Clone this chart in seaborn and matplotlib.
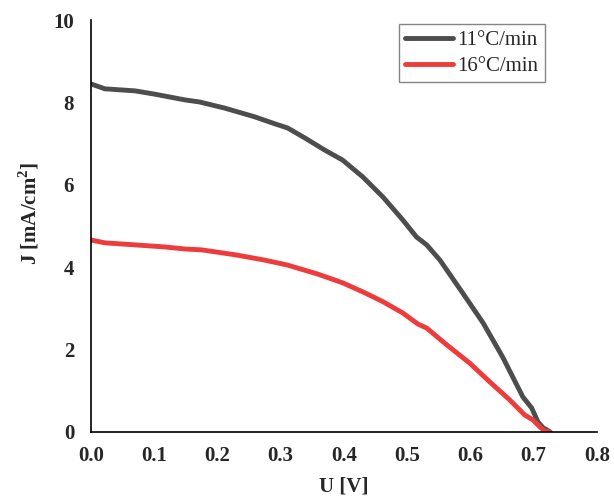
import numpy as np
import pandas as pd
import matplotlib.pyplot as plt
import seaborn as sns

u_11 = [0.0, 0.022, 0.07, 0.101, 0.149, 0.172, 0.212, 0.259, 0.291, 0.311, 0.338,
        0.37, 0.398, 0.43, 0.462, 0.493, 0.515, 0.531, 0.552, 0.588, 0.62, 0.651,
        0.683, 0.697, 0.707, 0.715, 0.726]
j_11 = [8.45, 8.33, 8.28, 8.2, 8.06, 8.01, 7.86, 7.65, 7.48, 7.38, 7.14,
        6.84, 6.6, 6.19, 5.7, 5.15, 4.73, 4.54, 4.17, 3.37, 2.65, 1.82,
        0.85, 0.58, 0.24, 0.1, 0.0]

u_16 = [0.0, 0.022, 0.07, 0.117, 0.149, 0.175, 0.228, 0.275, 0.311, 0.359, 0.398,
        0.43, 0.462, 0.493, 0.517, 0.531, 0.563, 0.599, 0.631, 0.662, 0.686, 0.699,
        0.71, 0.718, 0.726]
j_16 = [4.66, 4.59, 4.54, 4.49, 4.44, 4.42, 4.3, 4.17, 4.05, 3.83, 3.62,
        3.4, 3.16, 2.89, 2.62, 2.52, 2.11, 1.67, 1.21, 0.78, 0.41, 0.29,
        0.12, 0.02, 0.0]

labels = ["11\u00b0C/min", "16\u00b0C/min"]
colors = ["#4d4d4d", "#ee3b3b"]

df = pd.concat([
    pd.DataFrame({"U": u_11, "J": j_11, "rate": labels[0]}),
    pd.DataFrame({"U": u_16, "J": j_16, "rate": labels[1]}),
], ignore_index=True)

sns.set_style("white")
plt.rcParams["font.family"] = ["Liberation Serif", "DejaVu Serif"]
plt.rcParams["mathtext.fontset"] = "custom"
plt.rcParams["mathtext.rm"] = "Liberation Serif"
plt.rcParams["mathtext.bf"] = "Liberation Serif:bold"

fig = plt.figure(figsize=(6.14, 5.01), dpi=100)
ax = fig.add_axes([0.148, 0.138, 0.824, 0.822])
sns.lineplot(data=df, x="U", y="J", hue="rate", palette=colors, sort=False,
             linewidth=3.5, ax=ax, estimator=None)

ax.set_xlim(0, 0.8)
ax.set_ylim(0, 10)
ax.set_xticks(np.arange(0, 0.81, 0.1))
ax.set_xticklabels([f"{v:.1f}" for v in np.arange(0, 0.81, 0.1)])
ax.set_yticks([0, 2, 4, 6, 8, 10])
for t in ax.get_xticklabels() + ax.get_yticklabels():
    t.set_fontweight("bold")
    t.set_fontsize(15)
ax.tick_params(axis="x", length=0, pad=10)
ax.tick_params(axis="y", length=0, pad=12)
sns.despine(ax=ax)
for s in ["left", "bottom"]:
    ax.spines[s].set_color("black")
    ax.spines[s].set_linewidth(1.2)

ax.set_xlabel("U [V]", fontsize=15, fontweight="bold", labelpad=8)
ax.set_ylabel("J [mA/cm$^\\mathbf{2}$]", fontsize=15, fontweight="bold")
ax.yaxis.set_label_coords(-0.097, 0.53)

leg = ax.legend(title=None, loc="upper right", bbox_to_anchor=(0.897, 0.99),
                fontsize=15, frameon=True, fancybox=False, handlelength=2.3,
                borderpad=0.3, labelspacing=0.3, handletextpad=0.2,
                borderaxespad=0)
leg.get_frame().set_edgecolor("#666666")
leg.get_frame().set_linewidth(1.0)

fig.savefig("out.png", dpi=100)
plt.close(fig)
